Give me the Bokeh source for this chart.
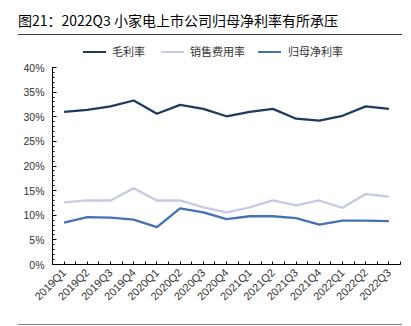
from bokeh.plotting import figure
from bokeh.models import (ColumnDataSource, FixedTicker, SingleIntervalTicker, PrintfTickFormatter,
                          Range1d, Div)
from bokeh.layouts import column
from bokeh.embed import file_html
from bokeh.resources import INLINE
import math

title_text = "图21：2022Q3 小家电上市公司归母净利率有所承压"
quarters = ["2019Q1", "2019Q2", "2019Q3", "2019Q4", "2020Q1", "2020Q2", "2020Q3", "2020Q4",
            "2021Q1", "2021Q2", "2021Q3", "2021Q4", "2022Q1", "2022Q2", "2022Q3"]
gross_margin = [31.0, 31.4, 32.1, 33.3, 30.6, 32.4, 31.6, 30.1, 31.0, 31.6, 29.6, 29.2, 30.2, 32.1, 31.6]
selling_exp = [12.6, 13.0, 13.0, 15.5, 13.0, 13.0, 11.6, 10.6, 11.6, 13.0, 12.0, 13.0, 11.5, 14.3, 13.8]
net_margin = [8.5, 9.6, 9.5, 9.1, 7.6, 11.4, 10.6, 9.2, 9.8, 9.8, 9.4, 8.1, 8.9, 8.9, 8.8]
series_names = ["毛利率", "销售费用率", "归母净利率"]
series_colors = ["#1f3a60", "#c7c9e8", "#4670b8"]

W = 411
TOP_H = 60
BOT_H = 7
MAIN_H = 326 - TOP_H - BOT_H

# ---- header (HTML): title, rule, legend ----
leg_sample_x = [83, 161, 258]
leg_text_x = [112, 190, 288]
parts = [
    f'<div style="position:relative;width:{W}px;height:{TOP_H}px;'
    f'font-family:\'Noto Sans CJK SC\';">',
    f'<div style="position:absolute;left:18px;top:10px;font-size:14px;line-height:20px;'
    f'color:#000;white-space:nowrap;">{title_text}</div>',
    '<div style="position:absolute;left:18px;top:34px;width:384px;height:0px;'
    'border-top:1px solid #404040;"></div>',
]
for sx, tx, name, color in zip(leg_sample_x, leg_text_x, series_names, series_colors):
    parts.append(f'<div style="position:absolute;left:{sx}px;top:51px;width:23px;height:0px;'
                 f'border-top:2px solid {color};"></div>')
    parts.append(f'<div style="position:absolute;left:{tx}px;top:45px;font-size:11px;'
                 f'line-height:13px;color:#333;white-space:nowrap;">{name}</div>')
parts.append('</div>')
header = Div(text="".join(parts), width=W, height=TOP_H, margin=(0, 0, 0, 0))

# ---- main chart ----
xs = [i + 0.5 for i in range(len(quarters))]
src = ColumnDataSource(dict(x=xs, q=quarters, g=gross_margin, s=selling_exp, n=net_margin))

p = figure(width=W, height=MAIN_H, output_backend="svg", toolbar_location=None,
           x_range=Range1d(0, len(quarters)), y_range=Range1d(0, 40),
           min_border_left=52, min_border_right=11, min_border_top=67 - TOP_H,
           min_border_bottom=(326 - BOT_H) - 264, margin=(0, 0, 0, 0))
p.outline_line_color = None
p.xgrid.visible = False
p.ygrid.visible = False
p.background_fill_color = "white"
p.border_fill_color = "white"

for col, color in zip(["g", "s", "n"], series_colors):
    p.line("x", col, source=src, line_color=color, line_width=2.3)

ya = p.yaxis[0]
ya.ticker = SingleIntervalTicker(interval=5, num_minor_ticks=5)
ya.formatter = PrintfTickFormatter(format="%d%%")
ya.major_tick_in = 4
ya.major_tick_out = 0
ya.minor_tick_in = 2
ya.minor_tick_out = 0
ya.major_label_standoff = 8
ya.major_label_text_font = "Liberation Sans"
ya.major_label_text_font_size = "10.5px"
ya.major_label_text_color = "#333333"
ya.axis_line_color = "black"
ya.major_tick_line_color = "black"
ya.minor_tick_line_color = "black"

xa = p.xaxis[0]
xa.ticker = FixedTicker(ticks=xs, minor_ticks=list(range(len(quarters) + 1)))
xa.major_label_overrides = {x: q for x, q in zip(xs, quarters)}
xa.major_label_orientation = math.pi / 4
xa.major_tick_in = 3
xa.major_tick_out = 0
xa.minor_tick_in = 3
xa.minor_tick_out = 0
xa.major_label_standoff = 6
xa.major_label_text_font = "Liberation Sans"
xa.major_label_text_font_size = "11px"
xa.major_label_text_color = "#333333"
xa.axis_line_color = "black"

# ---- footer rule (HTML) ----
footer = Div(text=f'<div style="position:relative;width:{W}px;height:{BOT_H}px;">'
                  '<div style="position:absolute;left:18px;top:0px;width:384px;height:0px;'
                  'border-top:1px solid #808080;"></div></div>',
             width=W, height=BOT_H, margin=(0, 0, 0, 0))

layout = column(header, p, footer, spacing=0, margin=(0, 0, 0, 0))
open("out.html", "w").write(file_html(layout, INLINE))
